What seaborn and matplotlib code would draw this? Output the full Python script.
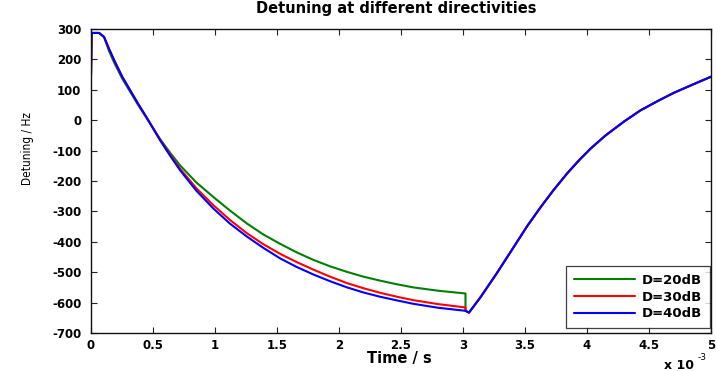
import matplotlib
matplotlib.use("Agg")
from matplotlib import pyplot as plt
import seaborn as sns
import pandas as pd


# time in units of 1e-3 s (as shown on the x ticks)
t_decay = [0.0, 0.005, 0.065, 0.105, 0.145, 0.186, 0.253, 0.315, 0.38, 0.45,
           0.557, 0.64, 0.719, 0.85, 0.988, 1.12, 1.258, 1.39, 1.527, 1.66,
           1.796, 1.93, 2.065, 2.2, 2.334, 2.47, 2.60, 2.8, 3.02]
green_decay = [147, 287, 287, 274, 228, 190, 136, 94, 50, 6,
               -62, -108, -149, -205, -253, -297, -340, -376, -407, -435,
               -460, -481, -499, -515, -528, -540, -550, -561, -570]
red_decay = [147, 287, 287, 274, 235, 198, 142, 99, 54, 8,
             -64, -114, -160, -224, -280, -328, -372, -408, -440, -467,
             -492, -515, -536, -553, -568, -581, -592, -605, -616]
blue_decay = [147, 287, 287, 274, 235, 198, 142, 99, 54, 8,
              -66, -118, -165, -232, -291, -340, -383, -420, -455, -483,
              -508, -530, -550, -567, -581, -593, -604, -617, -627]

# recovery part, common to all three curves
t_rise = [3.02, 3.048, 3.14, 3.27, 3.40, 3.52, 3.63, 3.73, 3.84, 3.94,
          4.03, 4.15, 4.30, 4.43, 4.57, 4.70, 4.84, 5.0]
rise = [-627, -633, -583, -505, -423, -347, -284, -230, -175, -130,
        -93, -50, -4, 32, 63, 90, 115, 143]

labels = ["D=20dB", "D=30dB", "D=40dB"]
colors = ["#008000", "#ff0000", "#0000ff"]
xticks = [0, 0.5, 1, 1.5, 2, 2.5, 3, 3.5, 4, 4.5, 5]
yticks = list(range(-700, 301, 100))

rows = []
for lab, dec in zip(labels, [green_decay, red_decay, blue_decay]):
    for a, b in zip(t_decay + t_rise, dec + rise):
        rows.append({"time": a * 1e-3, "detuning": b, "series": lab})
df = pd.DataFrame(rows)

sns.set_theme(style="ticks")
plt.rcParams["font.family"] = ["DejaVu Sans"]
plt.rcParams["axes.unicode_minus"] = False
plt.rcParams["text.color"] = "black"
plt.rcParams["xtick.labelcolor"] = "black"
plt.rcParams["ytick.labelcolor"] = "black"

fig = plt.figure(figsize=(7.16, 3.71), dpi=100)
ax = fig.add_axes([91 / 716, 1 - 333 / 371, 620 / 716, 304 / 371])

sns.lineplot(data=df, x="time", y="detuning", hue="series", palette=colors,
             estimator=None, sort=False, linewidth=1.5, ax=ax, legend=False)

ax.set_xlim(0, 5e-3)
ax.set_ylim(-700, 300)
ax.set_xticks([v * 1e-3 for v in xticks])
ax.set_xticklabels([f"{v:g}" for v in xticks], fontweight="bold", fontsize=8.5,
                   color="black")
ax.set_yticks(yticks)
ax.set_yticklabels([str(v) for v in yticks], fontweight="bold", fontsize=8.5,
                   color="black")
ax.tick_params(direction="in", top=True, right=True, length=4, width=0.8,
               color="#222222", pad=4)
ax.tick_params(axis="y", pad=7)
for s in ax.spines.values():
    s.set_color("#111111")
    s.set_linewidth(1.0)
ax.set_xlabel("")
ax.set_ylabel("")

handles = ax.get_lines()[:3]
leg = ax.legend(handles, labels, loc="lower right", bbox_to_anchor=(0.998, 0.016),
                borderaxespad=0, frameon=True, fancybox=False, handlelength=4.6,
                handletextpad=0.5, borderpad=0.6, labelspacing=0.28,
                prop={"weight": "bold", "size": 9.5})
leg.get_frame().set_edgecolor("#111111")
leg.get_frame().set_linewidth(0.9)
for txt in leg.get_texts():
    txt.set_color("black")

fig.text(396 / 716, 1 - 8 / 371, "Detuning at different directivities",
         ha="center", va="center", fontsize=10.5, fontweight="bold")
fig.text(399 / 716, 1 - 359 / 371, "Time / s", ha="center", va="center",
         fontsize=10.5, fontweight="bold")
fig.text(27 / 716, 1 - 148 / 371, "Detuning / Hz", rotation=90, ha="center",
         va="center", fontsize=8.5, fontstretch="condensed",
         family=["Liberation Sans Narrow", "DejaVu Sans"])
fig.text(664 / 716, 1 - 369 / 371, "x 10", ha="left", va="baseline",
         fontsize=9, fontweight="bold")
fig.text(698 / 716, 1 - 360 / 371, "-3", ha="left", va="baseline", fontsize=6.5)

fig.savefig("out.png", dpi=100)
